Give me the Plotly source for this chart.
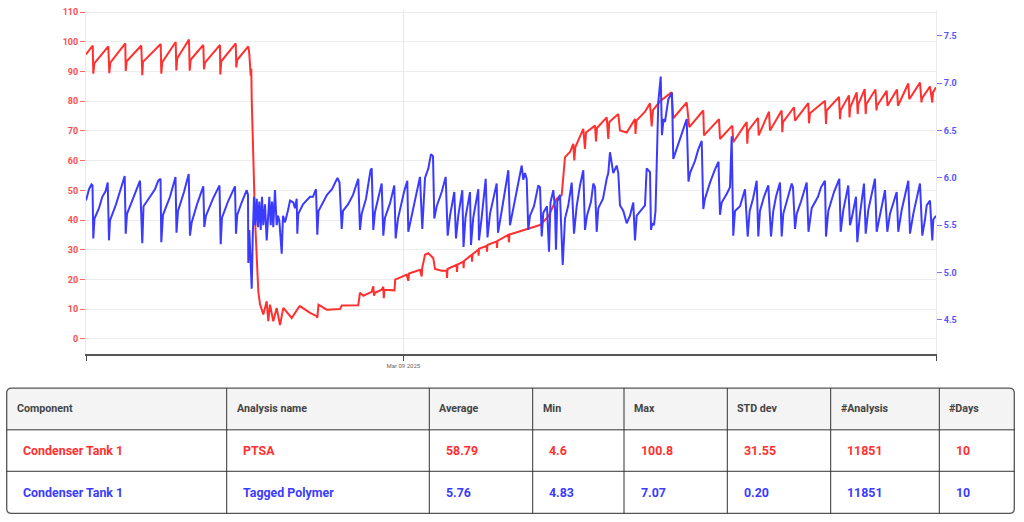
import pandas as pd
import plotly.graph_objects as go

# Time axis: hours since the first sample (10 days of data)
start = pd.Timestamp("2025-03-05 06:25")

ptsa_hours = [
    0.00, 1.89, 2.06, 2.34, 6.30, 6.58, 6.86, 11.10, 11.21, 11.49, 15.61, 15.90, 16.09,
    21.09, 21.26, 21.54, 25.33, 25.50, 25.78, 29.08, 29.28, 29.56, 33.12, 33.32, 33.60,
    37.83, 37.92, 38.20, 42.27, 42.44, 42.72, 45.83, 46.11, 46.50, 46.67, 46.79, 47.72,
    48.65, 49.13, 50.06, 51.02, 51.47, 51.95, 52.88, 53.84, 54.78, 55.71, 57.12, 58.08,
    59.94, 60.42, 63.25, 65.14, 65.31, 65.65, 67.96, 71.72, 72.20, 76.88, 77.36, 78.30,
    80.67, 81.12, 81.32, 81.60, 83.49, 83.94, 84.08, 84.28, 87.11, 87.30, 90.55, 91.00,
    91.20, 94.30, 94.78, 94.95, 95.72, 96.65, 97.61, 98.06, 98.54, 100.43, 101.84, 101.93,
    102.07, 104.67, 104.75, 104.89, 106.53, 106.62, 106.73, 108.90, 108.99, 109.13,
    110.77, 110.85, 110.96, 113.14, 113.22, 113.36, 115.96, 116.05, 116.19, 119.24,
    119.43, 119.58, 123.95, 128.19, 130.53, 132.90, 134.31, 135.25, 136.66, 137.59,
    137.87, 138.15, 140.41, 140.89, 141.18, 143.72, 144.00, 144.28, 147.02, 147.47,
    147.75, 150.29, 150.77, 152.67, 155.01, 155.15, 155.43, 157.83, 159.25, 159.72,
    160.09, 162.07, 165.32, 165.82, 169.61, 170.34, 174.29, 174.49, 178.73, 179.01,
    182.48, 182.76, 186.55, 186.72, 186.92, 189.74, 189.94, 192.85, 193.13, 196.43,
    196.60, 196.80, 199.90, 200.19, 203.94, 204.14, 204.42, 208.66, 208.94, 209.13,
    212.61, 212.89, 213.09, 215.43, 215.57, 215.80, 217.61, 217.89, 218.06, 219.87,
    220.15, 220.32, 222.91, 223.20, 223.34, 226.08, 226.30, 228.99, 229.27, 232.18,
    232.46, 235.48, 235.91, 236.04, 238.30, 238.95, 239.15, 240.00,
]
ptsa_values = [
    95.8, 98.8, 89.3, 92.8, 98.5, 89.5, 93.0, 99.5, 90.2, 93.5, 98.8, 88.8, 93.3,
    99.3, 89.3, 93.2, 100.0, 90.4, 94.5, 100.8, 90.3, 94.0, 99.0, 90.8, 93.0,
    99.0, 89.0, 93.5, 99.5, 91.4, 94.0, 98.5, 96.0, 88.6, 91.0, 80.7, 40.5,
    16.0, 11.6, 8.2, 12.6, 5.9, 11.5, 5.9, 10.4, 4.6, 10.4, 8.2, 7.0,
    10.4, 11.0, 8.7, 7.6, 7.0, 11.5, 9.8, 10.0, 11.2, 11.3, 15.5, 14.5,
    15.8, 17.7, 14.5, 15.5, 16.5, 17.5, 13.7, 16.5, 16.3, 19.9, 21.6, 19.5,
    22.0, 23.2, 21.0, 24.0, 28.3, 28.8, 27.7, 27.1, 23.5, 22.9, 22.9, 20.5,
    23.5, 24.9, 22.5, 25.0, 26.0, 23.8, 26.2, 28.3, 26.0, 28.5,
    30.0, 28.0, 30.3, 31.3, 29.3, 31.6, 32.8, 30.6, 33.0, 35.0,
    32.5, 35.1, 36.6, 38.3, 41.1, 47.2, 48.4, 61.2, 62.9, 65.7,
    60.1, 64.5, 70.7, 64.0, 69.5, 71.8, 66.5, 71.0, 74.6, 67.3,
    73.0, 75.7, 70.2, 69.5, 74.0, 69.0, 73.5, 76.5, 79.3, 71.5,
    77.0, 80.0, 83.0, 74.3, 79.6, 71.3, 76.9, 68.5, 74.0, 67.3,
    71.8, 66.2, 73.0, 65.7, 70.0, 74.4, 68.5, 76.5, 70.2, 76.9,
    69.6, 73.0, 78.0, 73.5, 79.4, 72.6, 76.0, 80.2, 72.4, 76.9,
    81.5, 74.0, 77.0, 82.0, 74.6, 78.0, 83.0, 75.7, 79.0, 84.1,
    75.7, 79.0, 84.0, 76.9, 78.5, 83.5, 78.5, 84.0, 78.5, 86.0,
    80.7, 86.3, 79.6, 81.0, 85.0, 79.6, 83.0, 84.7,
]

polymer_hours = [
    0.00, 0.85, 1.55, 1.84, 2.06, 2.40, 3.67, 4.60, 5.56, 6.13, 6.49, 6.78, 8.47, 9.60,
    10.93, 11.21, 11.58, 13.27, 15.25, 15.90, 16.24, 18.07, 19.48, 20.41, 21.04, 21.26,
    21.74, 23.72, 25.27, 25.55, 25.98, 27.67, 29.00, 29.36, 29.84, 31.34, 33.12, 33.40,
    33.88, 35.86, 37.69, 38.03, 38.40, 40.09, 42.07, 42.35, 42.72, 44.05, 45.37, 45.74,
    45.83, 46.11, 46.50, 46.79, 47.07, 47.43, 47.80, 48.20, 48.56, 48.93, 49.33, 49.69,
    50.06, 50.54, 51.02, 51.39, 51.76, 52.15, 52.52, 52.88, 53.36, 53.84, 54.21, 54.58,
    55.26, 55.62, 56.19, 57.12, 57.60, 58.53, 59.01, 59.49, 59.66, 59.94, 61.27, 63.25,
    64.09, 64.94, 65.31, 65.65, 66.63, 68.05, 69.46, 71.01, 71.58, 72.20, 72.56, 73.98,
    75.39, 76.88, 77.36, 77.84, 79.06, 80.33, 80.67, 81.12, 81.60, 83.49, 83.94, 84.42,
    85.83, 87.05, 87.44, 88.09, 89.79, 90.72, 91.00, 91.96, 93.37, 94.30, 94.95, 95.72,
    96.65, 97.41, 97.98, 98.34, 99.02, 100.43, 101.56, 102.12, 102.78, 103.99, 104.47,
    105.12, 106.25, 106.59, 107.15, 108.42, 108.70, 109.35, 110.77, 110.96, 111.72,
    112.85, 113.36, 114.07, 115.96, 116.33, 117.37, 119.24, 119.72, 120.65, 121.98,
    123.02, 123.47, 123.95, 124.43, 124.88, 125.36, 126.49, 127.71, 128.19, 128.67,
    129.12, 130.16, 130.73, 131.15, 131.94, 132.42, 132.70, 133.07, 133.83, 134.60,
    135.25, 136.18, 137.14, 137.79, 138.55, 139.48, 140.41, 140.89, 141.46, 142.59,
    143.24, 143.72, 144.20, 144.65, 145.98, 147.02, 147.47, 147.95, 148.88, 149.84,
    150.29, 150.77, 151.71, 152.67, 153.60, 154.53, 155.01, 155.49, 156.90, 157.83,
    158.31, 159.25, 159.53, 159.90, 160.38, 160.80, 161.14, 161.59, 162.27, 162.63,
    163.06, 163.48, 164.42, 165.46, 165.82, 167.72, 169.13, 169.61, 170.12, 170.54,
    171.95, 172.88, 173.84, 174.29, 174.77, 176.19, 177.60, 178.59, 179.01, 179.49,
    180.90, 181.83, 182.31, 182.76, 183.25, 184.66, 186.07, 186.83, 187.39, 188.33,
    189.37, 189.83, 190.30, 191.43, 192.65, 193.41, 194.06, 194.82, 195.95, 196.43,
    196.88, 198.21, 199.26, 199.62, 200.19, 200.67, 201.88, 203.49, 204.00, 204.90,
    205.83, 206.68, 207.53, 208.37, 208.66, 208.94, 209.59, 211.20, 212.69, 213.09,
    213.83, 215.23, 215.72, 216.19, 217.41, 217.78, 218.54, 219.67, 220.15, 220.88,
    222.77, 223.25, 224.19, 225.60, 226.25, 227.01, 228.90, 229.35, 230.31, 232.18,
    232.66, 233.59, 235.48, 236.13, 236.89, 237.37, 238.30, 238.95, 239.24, 240.00,
]
polymer_values = [
    5.76, 5.88, 5.93, 5.92, 5.36, 5.57, 5.68, 5.80, 5.86, 5.95, 5.34, 5.55, 5.72, 5.85,
    6.02, 5.41, 5.62, 5.78, 5.97, 5.31, 5.70, 5.80, 5.88, 5.97, 5.99, 5.32,
    5.61, 5.80, 6.01, 5.42, 5.65, 5.85, 6.04, 5.39, 5.53, 5.72, 5.91, 5.48,
    5.60, 5.78, 5.92, 5.30, 5.58, 5.75, 5.91, 5.41, 5.61, 5.75, 5.87, 5.82,
    5.10, 5.45, 4.94, 4.83, 5.36, 5.80, 5.50, 5.78, 5.48, 5.75, 5.45, 5.80,
    5.50, 5.72, 5.34, 5.55, 5.80, 5.50, 5.75, 5.48, 5.87, 5.50, 5.60, 5.55,
    5.20, 5.60, 5.53, 5.67, 5.76, 5.74, 5.68, 5.78, 5.41, 5.62, 5.72, 5.80,
    5.80, 5.88, 5.40, 5.65, 5.72, 5.82, 5.88, 6.00, 5.95, 5.46, 5.65, 5.72,
    5.82, 5.99, 5.45, 5.62, 5.78, 6.08, 6.10, 5.45, 5.64, 5.94, 5.39, 5.58,
    5.73, 5.92, 5.36, 5.57, 5.85, 5.97, 5.43, 5.60, 5.82, 6.01, 5.46, 6.00,
    6.10, 6.25, 6.23, 5.57, 5.70, 5.85, 6.01, 5.39, 5.60, 5.85, 5.36,
    5.60, 5.87, 5.27, 5.58, 5.85, 5.29, 5.58, 5.88, 5.34, 5.58,
    5.99, 5.37, 5.62, 5.94, 5.42, 5.65, 6.08, 5.50, 5.68, 5.90,
    6.13, 5.98, 6.05, 5.99, 5.45, 5.60, 5.70, 5.92, 5.90, 5.38,
    5.63, 5.70, 5.22, 5.74, 5.87, 5.68, 5.24, 5.75, 5.82, 5.08,
    5.57, 5.71, 5.95, 5.41, 5.70, 5.92, 6.08, 5.45, 5.60, 5.75,
    5.94, 5.90, 5.43, 5.68, 5.78, 5.99, 6.05, 6.27, 6.05, 6.13,
    6.05, 5.71, 5.65, 5.52, 5.60, 5.74, 5.34, 5.60, 5.66, 5.71,
    6.10, 6.06, 5.45, 5.52, 5.50, 5.65, 6.13, 6.80, 7.07, 6.45,
    6.62, 6.59, 6.83, 6.90, 6.20, 6.40, 6.55, 6.62, 5.96, 6.05,
    6.18, 6.30, 6.39, 5.67, 5.78, 5.95, 6.09, 6.17, 5.61, 5.74,
    5.83, 5.90, 6.44, 5.39, 5.65, 5.70, 5.88, 5.38, 5.65, 5.78,
    5.97, 5.38, 5.65, 5.80, 5.92, 5.38, 5.65, 5.80, 5.95, 5.38,
    5.62, 5.80, 5.94, 5.90, 5.46, 5.62, 5.75, 5.95, 5.43, 5.68,
    5.74, 5.80, 5.90, 5.95, 5.97, 5.38, 5.65, 5.85, 5.99, 5.43,
    5.66, 5.92, 5.50, 5.57, 5.80, 5.32, 5.62, 5.94, 5.41, 5.66,
    5.99, 5.43, 5.62, 5.87, 5.43, 5.62, 5.85, 5.43, 5.66, 5.97,
    5.41, 5.62, 5.94, 5.39, 5.56, 5.71, 5.76, 5.34, 5.56, 5.60,
]

# Summary table
headers = ["Component", "Analysis name", "Average", "Min", "Max", "STD dev", "#Analysis", "#Days"]
components = ["Condenser Tank 1", "Condenser Tank 1"]
analyses = ["PTSA", "Tagged Polymer"]
averages = ["58.79", "5.76"]
minimums = ["4.6", "4.83"]
maximums = ["100.8", "7.07"]
std_devs = ["31.55", "0.20"]
n_analysis = ["11851", "11851"]
n_days = ["10", "10"]

RED = "#ff3030"
BLUE = "#3b3bff"
row_colors = [RED, BLUE]

ptsa_time = start + pd.to_timedelta(ptsa_hours, unit="h")
polymer_time = start + pd.to_timedelta(polymer_hours, unit="h")
end = start + pd.Timedelta(hours=240)

W, H = 1024, 522


def px(x):
    return x / W


def py(y):
    return 1 - y / H


fig = go.Figure()

fig.add_trace(go.Scatter(
    x=ptsa_time, y=ptsa_values, mode="lines",
    line=dict(color=RED, width=2), name="PTSA", yaxis="y",
))
fig.add_trace(go.Scatter(
    x=polymer_time, y=polymer_values, mode="lines",
    line=dict(color=BLUE, width=2), name="Tagged Polymer", yaxis="y2",
))

# ---- table drawn with shapes + annotations
col_edges = [6.7, 226.7, 429.3, 532.7, 624, 727.3, 830.7, 939.3, 1014.3]
row_edges = [387.3, 429.3, 471, 513.3]
r = 5


def rounded(x0, y0, x1, y1, top_only=False):
    rb = 0 if top_only else r
    pts = [
        f"M {px(x0 + r)},{py(y0)}",
        f"L {px(x1 - r)},{py(y0)}",
        f"Q {px(x1)},{py(y0)} {px(x1)},{py(y0 + r)}",
        f"L {px(x1)},{py(y1 - rb)}",
        f"Q {px(x1)},{py(y1)} {px(x1 - rb)},{py(y1)}",
        f"L {px(x0 + rb)},{py(y1)}",
        f"Q {px(x0)},{py(y1)} {px(x0)},{py(y1 - rb)}",
        f"L {px(x0)},{py(y0 + r)}",
        f"Q {px(x0)},{py(y0)} {px(x0 + r)},{py(y0)}",
        "Z",
    ]
    return " ".join(pts)


shapes = [
    dict(type="path", xref="paper", yref="paper",
         path=rounded(col_edges[0], row_edges[0], col_edges[-1], row_edges[1], top_only=True),
         fillcolor="#f4f4f4", line=dict(width=0), layer="below"),
    dict(type="path", xref="paper", yref="paper",
         path=rounded(col_edges[0], row_edges[0], col_edges[-1], row_edges[-1]),
         fillcolor="rgba(0,0,0,0)", line=dict(color="#555555", width=1.3)),
]
for y in row_edges[1:-1]:
    shapes.append(dict(type="line", xref="paper", yref="paper",
                       x0=px(col_edges[0]), x1=px(col_edges[-1]), y0=py(y), y1=py(y),
                       line=dict(color="#333333", width=1)))
for x in col_edges[1:-1]:
    shapes.append(dict(type="line", xref="paper", yref="paper",
                       x0=px(x), x1=px(x), y0=py(row_edges[0]), y1=py(row_edges[-1]),
                       line=dict(color="#333333", width=1)))

annotations = []
columns = [components, analyses, averages, minimums, maximums, std_devs, n_analysis, n_days]
for i, h in enumerate(headers):
    left = col_edges[i]
    annotations.append(dict(
        xref="paper", yref="paper", x=px(left + 8), y=py(408.3),
        xanchor="left", yanchor="middle", showarrow=False,
        text="<b>" + h + "</b>",
        font=dict(family="Roboto", size=10.7, color="#444444"),
    ))
    for j, v in enumerate(columns[i]):
        annotations.append(dict(
            xref="paper", yref="paper", x=px(left + 14.5), y=py([450.3, 492][j]),
            xanchor="left", yanchor="middle", showarrow=False,
            text="<b>" + v + "</b>",
            font=dict(family="Roboto", size=12.4, color=row_colors[j]),
        ))

fig.update_layout(
    width=W, height=H,
    margin=dict(l=0, r=0, t=0, b=0),
    paper_bgcolor="white", plot_bgcolor="white",
    showlegend=False,
    font=dict(family="Roboto"),
    shapes=shapes,
    annotations=annotations,
    xaxis=dict(
        domain=[px(86), px(936)],
        range=[start, end],
        tickvals=[start, pd.Timestamp("2025-03-09"), end],
        ticktext=["", "Mar 09 2025", ""],
        tickfont=dict(size=6, color="#666666"),
        ticks="outside", ticklen=5, tickcolor="#444444",
        showline=True, linecolor="#555555", linewidth=2,
        showgrid=True, gridcolor="#e8e8e8",
        zeroline=False,
    ),
    yaxis=dict(
        domain=[py(353), py(7)],
        range=[-5.13, 110.78],
        tick0=0, dtick=10,
        tickfont=dict(size=9, color="#ff4d4d", weight="bold"),
        ticks="outside", ticklen=5, tickcolor="#ff6666",
        showline=True, linecolor="#eaeaea",
        gridcolor="#ececec", zeroline=False,
    ),
    yaxis2=dict(
        overlaying="y", side="right", anchor="x",
        range=[4.14, 7.773],
        tick0=4.5, dtick=0.5, tickformat=".1f",
        tickfont=dict(size=9, color="#5555ff", weight="bold"),
        ticks="outside", ticklen=5, tickcolor="#7777ff",
        showline=True, linecolor="#eaeaea",
        showgrid=False, zeroline=False,
    ),
)

# drop the page's default body margin so the figure fills the window
fig.write_html(
    "out.html",
    config={"displayModeBar": False},
    post_script="document.body.style.margin = '0px';",
)
